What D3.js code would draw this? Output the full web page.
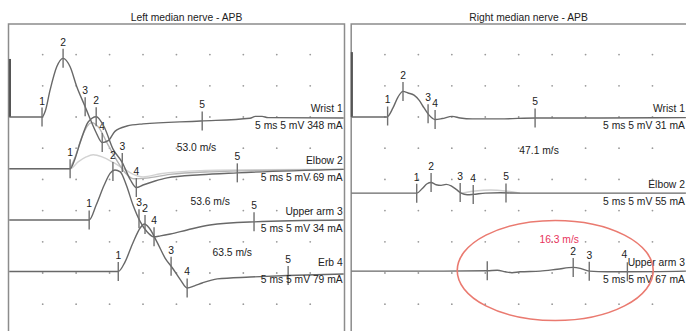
<!DOCTYPE html>
<html>
<head>
<meta charset="utf-8">
<script src="https://cdn.jsdelivr.net/npm/d3@7"></script>
<style>
  body { margin: 0; background: #fff; }
  text { font-family: "Liberation Sans", Arial, sans-serif; font-size: 10.3px; fill: #222; }
</style>
</head>
<body>
<script>
// traces: [time ms, amplitude mV] relative to each trace's own baseline
var markLabels = ["1", "2", "3", "4", "5"];

var leftNames = ["Wrist 1", "Elbow 2", "Upper arm 3", "Erb 4"];
var leftSettings = ["5 ms 5 mV 348 mA", "5 ms 5 mV 69 mA", "5 ms 5 mV 34 mA", "5 ms 5 mV 79 mA"];
var leftVelocities = ["53.0 m/s", "53.6 m/s", "63.5 m/s"];

var rightNames = ["Wrist 1", "Elbow 2", "Upper arm 3"];
var rightSettings = ["5 ms 5 mV 31 mA", "5 ms 5 mV 55 mA", "5 ms 5 mV 67 mA"];
var rightVelocities = ["47.1 m/s", "16.3 m/s"];

var leftArtifact = [[0.1, 0], [0.1, 9.3]];
var rightArtifact = [[0.05, 0], [0.05, 10.4]];

var leftWrist = [[0,0],[4.9,0],[5.4,1.0],[6.1,4.3],[7.1,8.05],[8.05,9.4],[9.1,8.05],[10.1,4.85],[11.35,1.65],
  [11.9,0.2],[12.95,-2.4],[13.9,-4.1],[14.8,-3.8],[15.8,-2.3],[17.6,-1.45],[20,-1.1],[28.6,-0.65],[36,-0.2],
  [36.8,0.1],[37.8,0.1],[38.7,-0.1],[50,-0.15]];
var leftElbow = [[0,0],[9.1,0],[9.8,1.5],[10.6,4.2],[11.8,7.5],[13,8.35],[14.2,6.7],[15.5,3.2],[16.9,1.0],
  [18.1,-1.75],[19,-3.0],[20,-2.6],[21.8,-1.95],[23.6,-1.45],[28.6,-0.95],[34.1,-0.65],[50,-0.1]];
var leftElbowRepeat = [[0,0],[9.1,0],[10.3,1.1],[11.5,1.9],[12.55,2.25],[13.9,1.9],[15.4,1.1],[16.9,0.15],
  [18.4,-0.8],[20,-1.3],[22.6,-0.8],[28.6,-0.3],[37.5,-0.15],[50,-0.1]];
var leftElbowRepeat2 = [[9.1,0],[9.9,2],[10.9,5.2],[12.3,7.4],[13.4,6.6],[14.6,4.2],[16,1.5],[17.3,-0.6],
  [18.6,-1.6],[20.5,-1.5],[24,-0.9],[30,-0.5],[50,-0.1]];
var leftUpperArm = [[0,0],[11.95,0],[13,2.4],[14.2,5.6],[15.1,7.5],[15.8,8.0],[16.6,7.7],[17.5,5.6],[18.5,2.4],
  [19.6,-0.3],[20.6,-1.9],[21.6,-2.7],[22.6,-2.55],[24.1,-2.25],[26.6,-1.6],[30,-0.8],[36.6,-0.3],[50,0]];
var leftErb = [[0,0],[16.3,0],[17.3,1.5],[18.5,4.6],[19.6,7],[20.2,7.6],[20.9,7],[22.1,4.7],[23.3,2.15],
  [24.4,0.55],[25.6,-1.35],[26.6,-2.65],[27.7,-2.3],[28.85,-1.85],[31.1,-1.2],[36,-0.9],[41.6,-0.65],[50,-0.4]];

var rightWrist = [[0,0],[5.3,0],[6.2,1.45],[6.95,3.2],[7.7,4.1],[8.45,3.85],[9.35,3.5],[10.1,2.7],[10.85,1.45],
  [11.6,0.3],[12.5,-0.4],[13.55,-0.25],[15.05,0.1],[16.25,-0.15],[18.05,-0.3],[22.2,-0.3],[27.5,-0.15],
  [37.2,-0.15],[50,-0.1]];
var rightElbow = [[0,0],[9.75,0],[10.55,0.7],[11.3,1.5],[11.9,1.7],[12.65,1.35],[13.4,1.25],[14.15,1.4],
  [14.9,1.15],[15.65,0.6],[16.4,0],[17.3,-0.25],[18.2,-0.2],[20,0],[22.25,0.05],[25.2,0],[50,0]];
var rightElbowRepeat = [[16.4,0],[18.5,0.35],[20.8,0.5],[23,0.35],[25.2,0]];
var rightUpperArm = [[0,0],[13.25,0],[20.3,0.05],[21.8,0.15],[23,-0.1],[24,-0.25],[25.2,-0.1],[28.2,0],
  [30.75,0.3],[33.15,0.6],[34.2,0.45],[35.55,0],[38.25,-0.1],[41.25,-0.1],[50,0]];

var leftWristMarks = [4.9, 8.05, 11.35, 13.9, 28.85];
var leftElbowMarks = [9.1, 13, 16.9, 19, 34.1];
var leftUpperArmMarks = [11.95, 15.5, 19.4, 21.65, 36.6];
var leftErbMarks = [16.3, 20.3, 24.2, 26.6, 41.7];
var rightWristMarks = [5.4, 7.7, 11.45, 12.5, 27.45];
var rightElbowMarks = [9.75, 11.9, 16.25, 18.2, 23.1];
var rightUpperArmMarks = [20.3, 33.15, 35.55, 41.25];
var rightUpperArmLabels = ["", "2", "3", "4"];

var width = 686, height = 331, frameTop = 24;

var svg = d3.select("body").append("svg")
    .attr("width", width)
    .attr("height", height);

// 5 mV per 31.2 px, traces stacked by offset (mV)
var y = d3.scaleLinear().domain([-35, 15]).range([117 + 35 * 6.24, 117 - 15 * 6.24]);

var panels = [
  {
    x: d3.scaleLinear().domain([0, 50]).range([9.25, 343.65]),
    left: 8.5, right: 344.5,
    title: "Left median nerve - APB",
    artifact: leftArtifact,
    traces: [
      {data: leftWrist, offset: 0, marks: leftWristMarks, labels: markLabels, name: leftNames[0], settings: leftSettings[0]},
      {data: leftElbow, offset: -8.3, marks: leftElbowMarks, labels: markLabels, name: leftNames[1], settings: leftSettings[1]},
      {data: leftUpperArm, offset: -16.5, marks: leftUpperArmMarks, labels: markLabels, name: leftNames[2], settings: leftSettings[2]},
      {data: leftErb, offset: -24.75, marks: leftErbMarks, labels: markLabels, name: leftNames[3], settings: leftSettings[3]}
    ],
    ghosts: [
      {data: leftElbowRepeat, offset: -8.3, color: "#d2d2d2"},
      {data: leftElbowRepeat2, offset: -8.3, color: "#b4b4b4"}
    ],
    velocities: leftVelocities,
    velocityAt: [[28.0, -5.45], [30.05, -14.1], [33.35, -22.3]]
  },
  {
    x: d3.scaleLinear().domain([0, 50]).range([351.5, 685.9]),
    left: 351.2, right: 700,
    title: "Right median nerve - APB",
    artifact: rightArtifact,
    traces: [
      {data: rightWrist, offset: 0, marks: rightWristMarks, labels: markLabels, name: rightNames[0], settings: rightSettings[0]},
      {data: rightElbow, offset: -12.2, marks: rightElbowMarks, labels: markLabels, name: rightNames[1], settings: rightSettings[1]},
      {data: rightUpperArm, offset: -24.7, marks: rightUpperArmMarks, labels: rightUpperArmLabels, name: rightNames[2], settings: rightSettings[2]}
    ],
    ghosts: [
      {data: rightElbowRepeat, offset: -12.2, color: "#cfcfcf"}
    ],
    velocities: rightVelocities,
    velocityAt: [[28.05, -5.9], [31.05, -20.2]]
  }
];

function valueAt(data, t) {
  var i = d3.bisector(function(d) { return d[0]; }).left(data, t);
  if (i <= 0) return data[0][1];
  if (i >= data.length) return data[data.length - 1][1];
  var a = data[i - 1], b = data[i];
  return a[1] + (b[1] - a[1]) * (t - a[0]) / (b[0] - a[0]);
}

panels.forEach(function(p, pi) {
  var g = svg.append("g");

  g.append("path")
      .attr("d", "M" + p.left + "," + (height + 5) + "V" + frameTop + "H" + p.right + "V" + (height + 5))
      .attr("fill", "none")
      .attr("stroke", "#8c8c8c")
      .attr("stroke-width", 1.5);

  g.append("text")
      .attr("x", (p.left + Math.min(p.right, 686)) / 2 + 10)
      .attr("y", 20.5)
      .attr("text-anchor", "middle")
      .text(p.title);

  // grid dots
  var dots = [];
  d3.range(5, 50, 5).forEach(function(t) {
    d3.range(-30, 15, 5).forEach(function(v) { dots.push([t, v]); });
  });
  g.selectAll(".dot")
    .data(dots)
    .enter().append("circle")
      .attr("cx", function(d) { return p.x(d[0]); })
      .attr("cy", function(d) { return y(d[1]); })
      .attr("r", 0.9)
      .attr("fill", "#9a9a9a");

  var line = d3.line()
      .curve(d3.curveMonotoneX)
      .x(function(d) { return p.x(d[0]); });

  p.ghosts.forEach(function(gh) {
    g.append("path")
        .attr("d", line.y(function(d) { return y(d[1] + gh.offset); })(gh.data))
        .attr("fill", "none")
        .attr("stroke", gh.color)
        .attr("stroke-width", 1.4);
  });

  g.append("path")
      .attr("d", d3.line().x(function(d) { return p.x(d[0]); }).y(function(d) { return y(d[1]); })(p.artifact))
      .attr("stroke", "#555")
      .attr("stroke-width", 2.2);

  p.traces.forEach(function(tr) {
    g.append("path")
        .attr("d", line.y(function(d) { return y(d[1] + tr.offset); })(tr.data))
        .attr("fill", "none")
        .attr("stroke", "#686868")
        .attr("stroke-width", 1.4);

    tr.marks.forEach(function(t, i) {
      var yy = y(valueAt(tr.data, t) + tr.offset);
      g.append("line")
          .attr("x1", p.x(t)).attr("x2", p.x(t))
          .attr("y1", yy - 9.5).attr("y2", yy + 9.5)
          .attr("stroke", "#707070")
          .attr("stroke-width", 1.4);
      if (tr.labels[i]) {
        g.append("text")
            .attr("x", p.x(t) - (pi === 1 && tr.marks.length === 4 && i === 3 ? 3 : 0))
            .attr("y", yy - (pi === 1 && tr.marks.length === 4 && i === 3 ? 14 : 12.5))
            .attr("text-anchor", "middle")
            .text(tr.labels[i]);
      }
    });

    var base = y(tr.offset);
    g.append("text")
        .attr("x", p.x(50) - 1)
        .attr("y", base - 5)
        .attr("text-anchor", "end")
        .text(tr.name);
    g.append("text")
        .attr("x", p.x(50) - 1)
        .attr("y", base + 12)
        .attr("text-anchor", "end")
        .text(tr.settings);
  });

  p.velocities.forEach(function(v, i) {
    var red = pi === 1 && i === 1;
    g.append("text")
        .attr("x", p.x(p.velocityAt[i][0]))
        .attr("y", y(p.velocityAt[i][1]))
        .attr("text-anchor", "middle")
        .style("fill", red ? "#e8345c" : "#222")
        .text(v);
  });
});

// highlight round the slowed right upper arm response
svg.append("ellipse")
    .attr("cx", panels[1].x(30.46))
    .attr("cy", y(-24.6))
    .attr("rx", 98)
    .attr("ry", 50)
    .attr("fill", "none")
    .attr("stroke", "#ea7a70")
    .attr("stroke-width", 1.6);
</script>
</body>
</html>
